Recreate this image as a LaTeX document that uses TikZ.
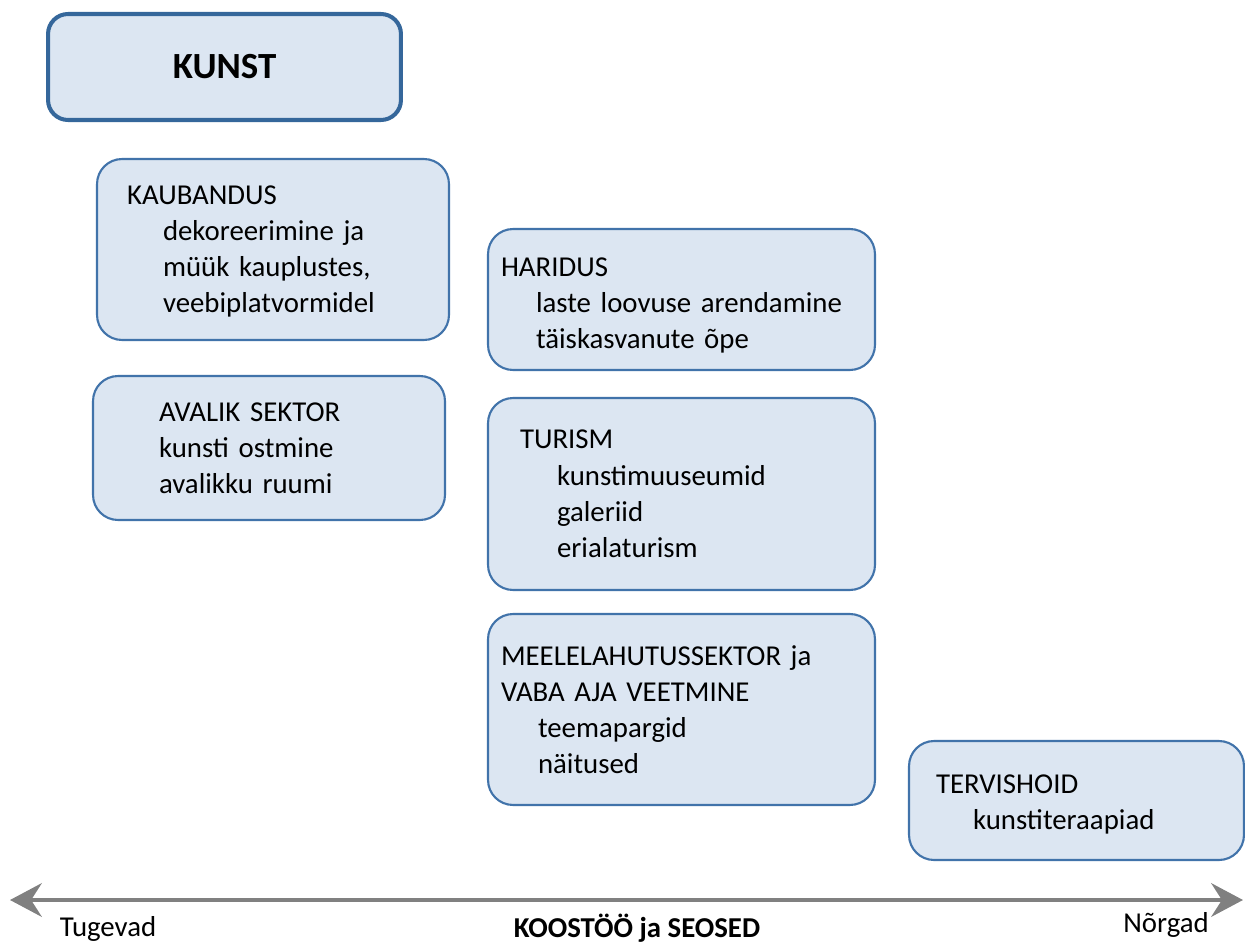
\documentclass[tikz,border=0pt]{standalone}
\usepackage{fontspec}
\setmainfont{Carlito}
\usetikzlibrary{arrows.meta}
\definecolor{boxfill}{HTML}{DCE6F2}
\definecolor{boxline}{HTML}{4173AA}
\definecolor{mainline}{HTML}{35679B}
\definecolor{axisgray}{HTML}{808080}
% first line with extra room above, pushes the text block down
\newcommand\topline[2]{\raisebox{0pt}[\dimexpr\height+#1\relax]{#2}}
\begin{document}
\begin{tikzpicture}[x=0.02cm,y=-0.02cm,
	box/.style={draw=boxline,fill=boxfill,line width=1.2pt,rounded corners=0.5cm,align=left,inner ysep=0pt,
		font=\fontsize{16.4}{20.6}\selectfont},
	mainbox/.style={draw=mainline,fill=boxfill,line width=2.3pt,rounded corners=0.4cm,
		minimum width=7.06cm,minimum height=2.12cm,font=\bfseries\fontsize{21}{25}\selectfont},
	axis/.style={draw=axisgray,line width=2.8pt,{Stealth[length=18pt,width=19pt,inset=6pt]}-{Stealth[length=18pt,width=19pt,inset=6pt]}},
	axislabel/.style={font=\fontsize{16.4}{19.8}\selectfont}]
	\useasboundingbox (0,0) rectangle (1245,943);
	\node[mainbox] (kunst) at (224.5,67) {KUNST};
	% left column
	\node[box,minimum height=3.62cm,inner xsep=0.6cm,text width=5.84cm] (kaubandus) at (273,249.5)
		{\topline{2.3pt}{KAUBANDUS}\\ \hspace*{0.72cm}dekoreerimine ja\\ \hspace*{0.72cm}müük kauplustes,\\ \hspace*{0.72cm}veebiplatvormidel};
	\node[box,minimum height=2.88cm,inner xsep=1.32cm,text width=4.4cm] (avalik) at (269,448)
		{AVALIK SEKTOR\\ kunsti ostmine\\ avalikku ruumi};
	% middle column
	\node[box,minimum height=2.82cm,inner xsep=0.26cm,text width=7.22cm] (haridus) at (681.5,299.5)
		{\topline{6.8pt}{HARIDUS}\\ \hspace*{0.7cm}laste loovuse arendamine\\ \hspace*{0.7cm}täiskasvanute õpe};
	\node[box,minimum height=3.84cm,inner xsep=0.64cm,text width=6.46cm] (turism) at (681.5,494)
		{TURISM\\ \hspace*{0.74cm}kunstimuuseumid\\ \hspace*{0.74cm}galeriid\\ \hspace*{0.74cm}erialaturism};
	\node[box,minimum height=3.82cm,inner xsep=0.26cm,text width=7.22cm] (meelelahutus) at (681.5,709.5)
		{MEELELAHUTUSSEKTOR ja\\ VABA AJA VEETMINE\\ \hspace*{0.74cm}teemapargid\\ \hspace*{0.74cm}näitused};
	% right column
	\node[box,minimum height=2.38cm,inner xsep=0.54cm,text width=5.62cm] (tervishoid) at (1076.5,800.5)
		{\topline{4.5pt}{TERVISHOID}\\ \hspace*{0.74cm}kunstiteraapiad};
	% axis
	\coordinate (tugev) at (10,900);
	\coordinate (nork) at (1243,900);
	\draw[axis] (tugev) -- (nork);
	\node[axislabel] (tugevad) at (108,929) {Tugevad};
	\node[axislabel,font=\bfseries\fontsize{16.4}{19.8}\selectfont] (koostoo) at (637,928) {KOOSTÖÖ ja SEOSED};
	\node[axislabel] (norgad) at (1166,925) {Nõrgad};
\end{tikzpicture}
\end{document}
